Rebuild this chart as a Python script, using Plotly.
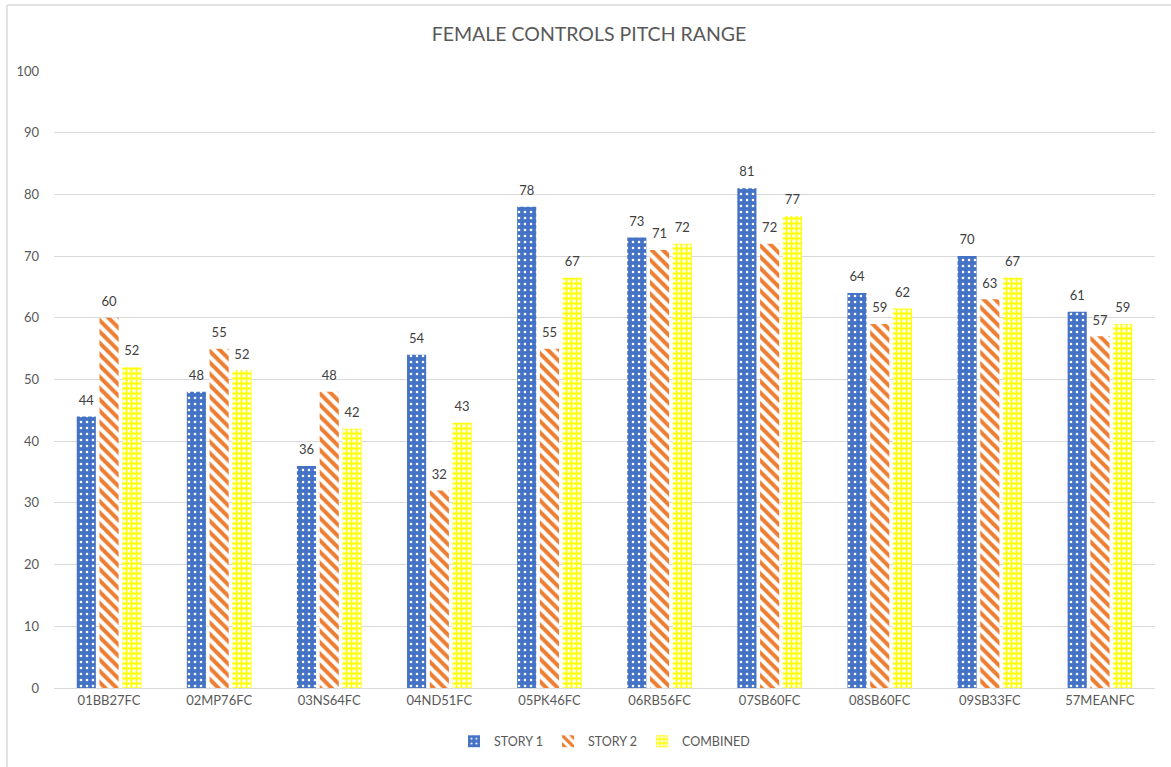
import plotly.graph_objects as go

categories = ["01BB27FC", "02MP76FC", "03NS64FC", "04ND51FC", "05PK46FC",
              "06RB56FC", "07SB60FC", "08SB60FC", "09SB33FC", "57MEANFC"]
story1 = [44, 48, 36, 54, 78, 73, 81, 64, 70, 61]
story2 = [60, 55, 48, 32, 55, 71, 72, 59, 63, 57]
combined = [52, 51.5, 42, 43, 66.5, 72, 76.5, 61.5, 66.5, 59]
y_ticks = [0, 10, 20, 30, 40, 50, 60, 70, 80, 90, 100]

FONT = "Lato"
TXT = "#595959"

series = [
    ("STORY 1", story1, "#4472C4",
     dict(shape=".", fgcolor="white", bgcolor="#4472C4", size=6, solidity=0.15,
          fillmode="replace", fgopacity=1)),
    ("STORY 2", story2, "#ED7D31",
     dict(shape="\\", fgcolor="#ED7D31", bgcolor="white", size=8, solidity=0.5,
          fillmode="replace", fgopacity=1)),
    ("COMBINED", combined, "#FFFF00",
     dict(shape="+", fgcolor="#FFFF00", bgcolor="white", size=5, solidity=0.6,
          fillmode="replace", fgopacity=1)),
]

fig = go.Figure()
for i, (name, vals, col, pat) in enumerate(series):
    fig.add_trace(go.Bar(
        name=name, x=categories, y=vals, offsetgroup=str(i),
        marker=dict(color=col, line=dict(width=0), pattern=pat, opacity=1),
    ))
for i, (name, vals, col, pat) in enumerate(series):
    fig.add_trace(go.Scatter(
        x=categories, y=vals, offsetgroup=str(i), mode="markers+text",
        marker=dict(size=12, color="rgba(0,0,0,0)"),
        texttemplate="%{y:.0f}", textposition="top center",
        textfont=dict(size=13, color="#404040", family=FONT),
        cliponaxis=False, showlegend=False, hoverinfo="skip",
    ))

fig.update_layout(
    width=1171, height=767,
    margin=dict(l=54, r=16, t=71, b=78),
    paper_bgcolor="white", plot_bgcolor="white",
    barmode="group", bargap=0.38, bargroupgap=0.16,
    scattermode="group", scattergap=0.38,
    title=dict(text="FEMALE CONTROLS PITCH RANGE", x=0.503, xanchor="center",
               y=0.956, yanchor="middle",
               font=dict(family=FONT, size=19.5, color=TXT)),
    font=dict(family=FONT, color=TXT, size=13),
    legend=dict(orientation="h", x=0.5, xanchor="center", y=-0.085, yanchor="middle",
                font=dict(size=12.5, color=TXT, family=FONT),
                itemwidth=30, tracegroupgap=0, traceorder="normal"),
    showlegend=True,
)
fig.update_xaxes(showgrid=False, showline=True, linecolor="#D9D9D9", linewidth=1,
                 ticks="", tickfont=dict(size=13, color=TXT, family=FONT))
fig.update_yaxes(range=[0, 100], tickvals=y_ticks, showgrid=True, gridcolor="#D9D9D9",
                 gridwidth=1, zeroline=False, showline=False, ticks="",
                 ticklabelstandoff=14,
                 tickfont=dict(size=13, color=TXT, family=FONT))

# chart frame (left and top edges visible)
fig.add_shape(type="line", xref="paper", yref="paper", x0=-0.0427, x1=-0.0427,
              y0=-0.13, y1=1.1068, line=dict(color="#D9D9D9", width=1.5))
fig.add_shape(type="line", xref="paper", yref="paper", x0=-0.0427, x1=1.02,
              y0=1.1068, y1=1.1068, line=dict(color="#D9D9D9", width=1.5))

fig.write_html("out.html")
